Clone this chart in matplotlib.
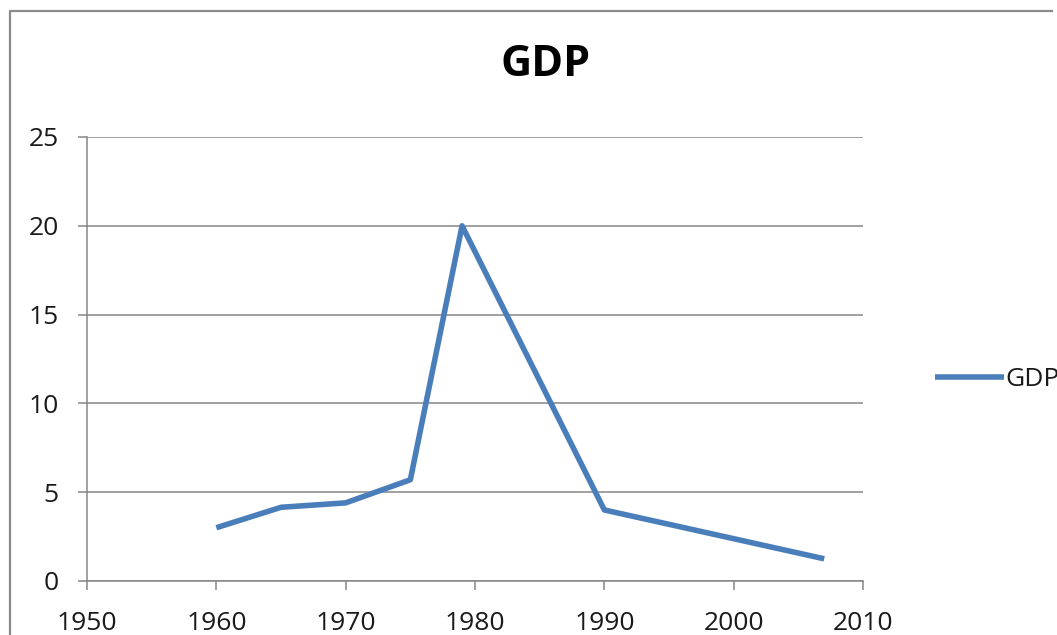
import matplotlib
matplotlib.use("Agg")
import matplotlib.pyplot as plt
from matplotlib.lines import Line2D

years = [1960, 1965, 1970, 1975, 1979, 1990, 2007]
gdp = [3.0, 4.15, 4.4, 5.7, 20.0, 4.0, 1.25]
x_ticks = [1950, 1960, 1970, 1980, 1990, 2000, 2010]
y_ticks = [0, 5, 10, 15, 20, 25]
title = "GDP"
series_name = "GDP"

W, H = 1057, 635
plt.rcParams['font.family'] = ['Open Sans', 'DejaVu Sans']
fig = plt.figure(figsize=(W / 100, H / 100), dpi=100)
ax = fig.add_axes([87 / W, 1 - 581 / H, (863 - 87) / W, (581 - 137) / H])

gray = '#868686'
ax.plot(years, gdp, color='#4A7EBB', lw=4.0, solid_joinstyle='round',
        solid_capstyle='butt', label=series_name)

ax.set_xlim(1950, 2010)
ax.set_ylim(0, 25)
ax.set_xticks(x_ticks)
ax.set_yticks(y_ticks)
ax.yaxis.grid(True, color=gray, lw=1.1)
ax.set_axisbelow(True)
for s in ['top', 'right']:
    ax.spines[s].set_visible(False)
for s in ['left', 'bottom']:
    ax.spines[s].set_color(gray)
    ax.spines[s].set_linewidth(1.1)
ax.tick_params(axis='x', direction='out', length=6.5, width=1.1, color=gray,
               labelsize=19, pad=15, labelcolor='#1a1a1a')
ax.tick_params(axis='y', direction='out', length=6.5, width=1.1, color=gray,
               labelsize=19, pad=14, labelcolor='#1a1a1a')

fig.text(546 / W, 1 - 64 / H, title, ha='center', va='center',
         fontsize=31, fontweight='bold', color='#000000')

leg = ax.legend(loc='center left', bbox_to_anchor=(935 / W, 1 - 380 / H),
                bbox_transform=fig.transFigure, frameon=False, fontsize=19,
                handlelength=2.6, handletextpad=0.08, borderpad=0,
                borderaxespad=0)
for t in leg.get_texts():
    t.set_color('#1a1a1a')

fig.add_artist(Line2D([10 / W, 10 / W, 1052 / W], [0, 1 - 11 / H, 1 - 11 / H],
                      transform=fig.transFigure, color='#8a8a8a', lw=1.6))

fig.savefig('out.png', dpi=100)
